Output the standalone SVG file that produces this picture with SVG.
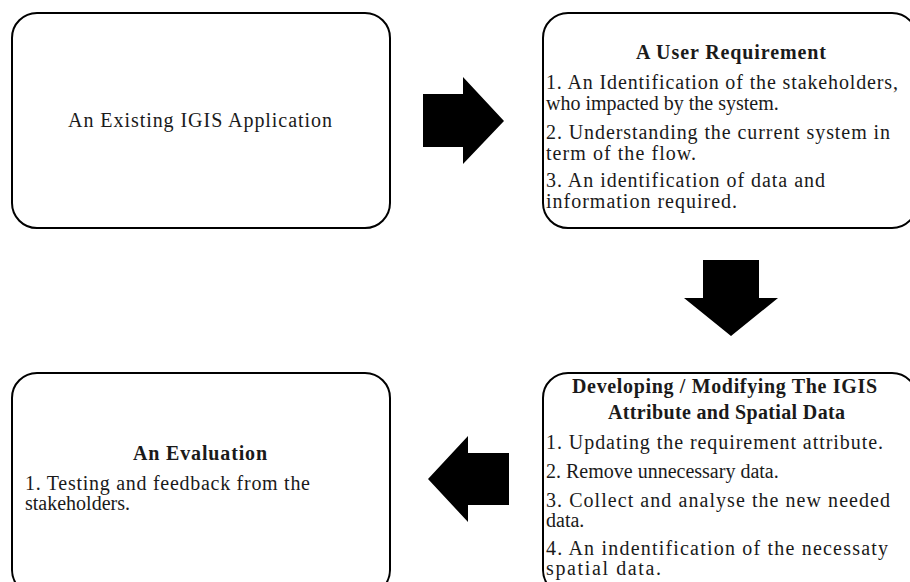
<svg xmlns="http://www.w3.org/2000/svg" width="910" height="582" viewBox="0 0 910 582">
<style>
.box{fill:#fff;stroke:#000;stroke-width:2}
.t{font-family:"Liberation Serif","Times New Roman",serif;font-size:20px;fill:#1a1a1a}
.b{font-weight:bold}
.arrow{fill:#000}
</style>
<rect width="910" height="582" fill="#fff"/>
<g id="node-existing">
<rect class="box" x="12" y="13" width="378" height="215" rx="25"/>
<text class="t" x="68" y="127" textLength="264" lengthAdjust="spacing">An Existing IGIS Application</text>
</g>
<g id="node-requirement">
<rect class="box" x="543" y="13" width="374" height="215" rx="25"/>
<text class="t b" x="636" y="59" textLength="190" lengthAdjust="spacing">A User Requirement</text>
<text class="t" x="546" y="89" textLength="352" lengthAdjust="spacing">1. An Identification  of the stakeholders,</text>
<text class="t" x="546" y="110">who impacted by the system.</text>
<text class="t" x="546" y="139" textLength="344" lengthAdjust="spacing">2. Understanding the current system in</text>
<text class="t" x="546" y="160" textLength="150" lengthAdjust="spacing">term of the flow.</text>
<text class="t" x="546" y="187" textLength="279" lengthAdjust="spacing">3. An identification  of data and</text>
<text class="t" x="546" y="208" textLength="191" lengthAdjust="spacing">information  required.</text>
</g>
<g id="node-developing">
<rect class="box" x="543" y="373" width="374" height="222" rx="25"/>
<text class="t b" x="572" y="393" textLength="305" lengthAdjust="spacing">Developing / Modifying The IGIS</text>
<text class="t b" x="608" y="419" textLength="237" lengthAdjust="spacing">Attribute  and Spatial Data</text>
<text class="t" x="546" y="449" textLength="337" lengthAdjust="spacing">1. Updating the requirement  attribute.</text>
<text class="t" x="546" y="478">2. Remove unnecessary data.</text>
<text class="t" x="546" y="507" textLength="344" lengthAdjust="spacing">3. Collect and analyse the new needed</text>
<text class="t" x="546" y="527">data.</text>
<text class="t" x="546" y="555" textLength="342" lengthAdjust="spacing">4. An indentification  of the necessaty</text>
<text class="t" x="546" y="575" textLength="115" lengthAdjust="spacing">spatial  data.</text>
</g>
<g id="node-evaluation">
<rect class="box" x="12" y="373" width="378" height="222" rx="25"/>
<text class="t b" x="133" y="460" textLength="134" lengthAdjust="spacing">An Evaluation</text>
<text class="t" x="25" y="490" textLength="285" lengthAdjust="spacing">1. Testing and feedback from the</text>
<text class="t" x="25" y="510">stakeholders.</text>
</g>
<g id="connectors">
<polygon class="arrow" points="423,94 463,94 463,77 504,121 463,164 463,147 423,147"/>
<polygon class="arrow" points="703,260 759,260 759,298 778,298 731,336 684,298 703,298"/>
<polygon class="arrow" points="509,453 468,453 468,436 428,479 468,522 468,505 509,505"/>
</g>
</svg>
